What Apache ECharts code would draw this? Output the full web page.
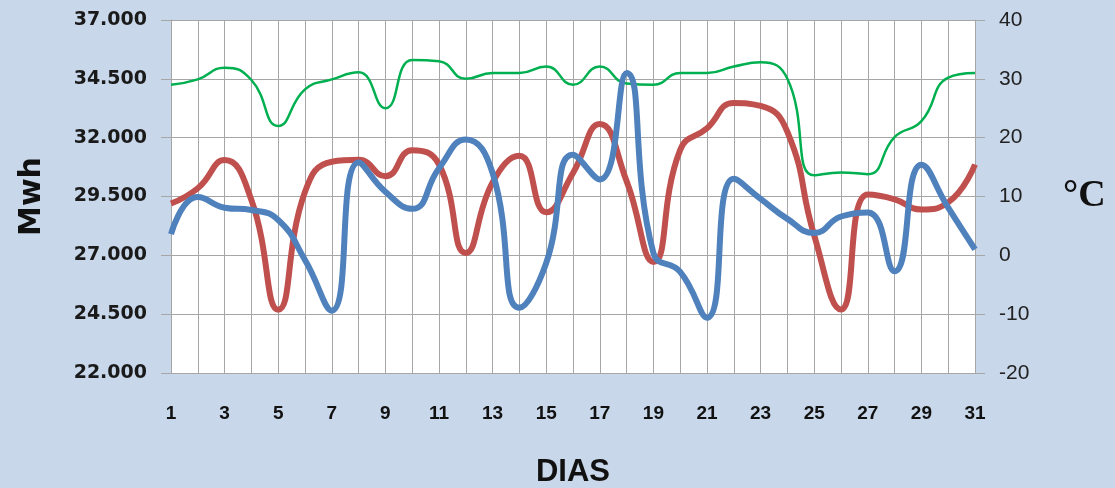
<!DOCTYPE html>
<html>
<head>
<meta charset="utf-8">
<script src="https://cdn.jsdelivr.net/npm/echarts@6/dist/echarts.min.js"></script>
<style>
html,body{margin:0;padding:0;background:#c8d7ea;}
#chart{width:1115px;height:488px;}
</style>
</head>
<body>
<div id="chart"></div>
<script>
const days = ['1','2','3','4','5','6','7','8','9','10','11','12','13','14','15','16','17','18','19','20','21','22','23','24','25','26','27','28','29','30','31'];
const redMwh = [29200,29850,31050,29350,24690,29700,30980,31060,30360,31470,30860,27100,30100,31230,28830,30500,32580,30150,26720,31480,32400,33470,33350,32250,27850,24700,29580,29380,28950,29250,30860];
const blueTemp = [3.6,9.9,8.1,7.7,6.0,-0.8,-9.4,15.8,10.8,7.9,14.8,19.7,14.0,-8.9,-1.3,17.1,12.9,31.0,0.4,-2.8,-10.6,13.0,9.6,6.2,3.8,6.6,7.3,-2.7,15.4,8.1,1.0];
const greenTemp = [29.0,29.9,31.9,29.8,22.0,28.2,29.9,31.1,25.0,33.2,33.0,30.0,31.0,31.0,32.1,29.0,32.1,29.2,29.0,31.0,31.0,32.1,32.8,30.0,13.6,14.1,13.8,20.1,22.8,30.2,31.0];
const leftAxis = {min:22000, max:37000, interval:2500};
const rightAxis = {min:-20, max:40, interval:10};

const chart = echarts.init(document.getElementById('chart'));
const gridColor = '#a6a6a6';
chart.setOption({
  backgroundColor:'#c8d7ea',
  animation:false,
  grid:{left:171, right:140, top:20, bottom:115, show:true, backgroundColor:'#ffffff', borderWidth:0, outerBoundsMode:'none', containLabel:false},
  xAxis:{
    type:'category', data:days, boundaryGap:false,
    name:'DIAS', nameLocation:'middle', nameGap:84,
    nameTextStyle:{fontFamily:'Liberation Sans', fontSize:31, fontWeight:'bold', color:'#111'},
    axisLine:{lineStyle:{color:gridColor, width:1}},
    axisTick:{show:true, interval:0, length:8, lineStyle:{color:gridColor}},
    axisLabel:{interval:1, margin:31, fontFamily:'Liberation Sans', fontWeight:'bold', fontSize:19, color:'#111'},
    splitLine:{show:true, interval:0, lineStyle:{color:gridColor, width:1}}
  },
  yAxis:[{
    type:'value', min:leftAxis.min, max:leftAxis.max, interval:leftAxis.interval, position:'left',
    name:'Mwh', nameLocation:'middle', nameGap:124, nameRotate:90,
    nameTextStyle:{fontFamily:'DejaVu Sans', fontSize:30, fontWeight:'bold', color:'#111'},
    axisLine:{show:true, lineStyle:{color:gridColor}},
    axisTick:{show:true, length:10, inside:false, lineStyle:{color:gridColor}},
    axisLabel:{margin:24, fontFamily:'DejaVu Sans', fontWeight:'bold', fontSize:19, color:'#1a1a1a',
      formatter:v => (v/1000).toFixed(3)},
    splitLine:{show:true, lineStyle:{color:gridColor, width:1}}
  },{
    type:'value', min:rightAxis.min, max:rightAxis.max, interval:rightAxis.interval, position:'right',
    name:'°C', nameLocation:'middle', nameGap:88, nameRotate:0,
    nameTextStyle:{fontFamily:'Liberation Serif', fontSize:38, fontWeight:'bold', color:'#111', align:'left', verticalAlign:'middle'},
    axisLine:{show:true, lineStyle:{color:gridColor}},
    axisTick:{show:true, length:10, lineStyle:{color:gridColor}},
    axisLabel:{margin:24, fontFamily:'Liberation Sans', fontSize:21, color:'#222'},
    splitLine:{show:false}
  }],
  series:[
    {name:'green', type:'line', yAxisIndex:1, data:greenTemp, smooth:0.5, showSymbol:false,
      lineStyle:{color:'#00b050', width:2.5}, z:2},
    {name:'red', type:'line', yAxisIndex:0, data:redMwh, smooth:0.5, showSymbol:false,
      lineStyle:{color:'#c0504d', width:6}, z:3},
    {name:'blue', type:'line', yAxisIndex:1, data:blueTemp, smooth:0.5, showSymbol:false,
      lineStyle:{color:'#4f81bd', width:6}, z:4}
  ]
});
</script>
</body>
</html>
